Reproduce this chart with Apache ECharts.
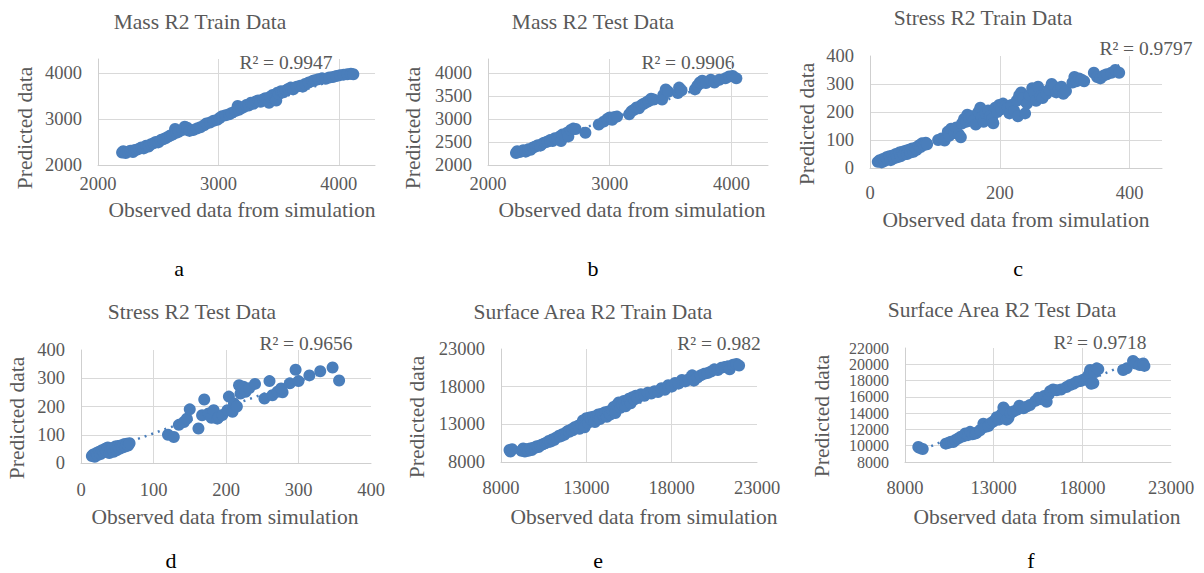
<!DOCTYPE html>
<html><head><meta charset="utf-8">
<script src="https://cdn.jsdelivr.net/npm/echarts@6/dist/echarts.min.js"></script>
<style>html,body{margin:0;padding:0;background:#fff}#c{width:1204px;height:573px}</style>
</head><body><div id="c"></div>
<script>
// ---------- data (observed, predicted) ----------
const massTrain = [[2200,2270],[2210,2300],[2230,2260],[2250,2290],[2270,2310],[2290,2280],[2300,2320],[2320,2330],[2340,2350],[2360,2380],[2380,2360],[2400,2420],[2420,2400],[2440,2450],[2460,2470],[2480,2500],[2500,2490],[2520,2540],[2540,2560],[2560,2580],[2580,2610],[2600,2640],[2620,2660],[2640,2780],[2650,2700],[2670,2720],[2700,2760],[2720,2830],[2740,2810],[2760,2740],[2790,2760],[2820,2790],[2850,2820],[2880,2860],[2900,2900],[2930,2920],[2960,2960],[2990,2980],[3010,3020],[3030,3060],[3060,3080],[3090,3100],[3110,3130],[3140,3170],[3160,3280],[3170,3200],[3190,3230],[3210,3260],[3230,3300],[3250,3290],[3270,3350],[3290,3330],[3310,3380],[3330,3400],[3350,3370],[3370,3420],[3390,3450],[3410,3400],[3420,3350],[3430,3480],[3450,3520],[3470,3460],[3480,3400],[3490,3570],[3500,3540],[3520,3600],[3540,3580],[3560,3620],[3580,3650],[3600,3680],[3620,3640],[3650,3700],[3680,3720],[3700,3700],[3720,3760],[3750,3790],[3780,3820],[3800,3840],[3830,3860],[3860,3880],[3890,3870],[3920,3900],[3950,3910],[3980,3930],[4010,3950],[4040,3960],[4070,3970],[4100,3980],[4120,3970]];
const massTest = [[2230,2260],[2240,2300],[2260,2280],[2290,2320],[2310,2290],[2330,2340],[2350,2330],[2370,2380],[2390,2400],[2410,2430],[2430,2420],[2450,2470],[2470,2490],[2490,2510],[2510,2540],[2530,2520],[2550,2580],[2570,2560],[2590,2620],[2600,2520],[2610,2660],[2630,2640],[2650,2700],[2660,2620],[2680,2760],[2700,2790],[2720,2780],[2800,2700],[2910,2880],[2950,2940],[2980,3000],[3000,3030],[3020,2980],[3040,3040],[3060,3050],[3160,3100],[3180,3170],[3200,3200],[3220,3250],[3240,3230],[3260,3300],[3280,3330],[3300,3360],[3320,3390],[3340,3440],[3360,3420],[3430,3420],[3440,3520],[3460,3640],[3480,3590],[3560,3560],[3570,3680],[3590,3620],[3700,3640],[3720,3720],[3740,3790],[3760,3830],[3790,3780],[3830,3850],[3860,3790],[3900,3850],[3950,3880],[3980,3920],[4010,3930],[4040,3880]];
const stressTrain = [[12,22],[15,28],[18,20],[20,32],[22,25],[25,38],[27,30],[30,42],[32,28],[35,45],[37,35],[40,50],[42,38],[45,55],[47,42],[50,58],[52,48],[55,62],[57,50],[60,65],[62,55],[65,70],[67,58],[70,72],[72,65],[75,80],[78,75],[80,88],[83,82],[86,90],[88,85],[105,100],[110,105],[115,98],[120,130],[122,115],[125,140],[130,125],[133,145],[137,120],[140,110],[142,160],[145,175],[148,165],[150,190],[153,180],[157,185],[160,170],[163,155],[167,200],[170,215],[172,180],[175,165],[178,195],[182,205],[185,185],[188,175],[190,160],[193,215],[196,200],[199,225],[202,210],[205,230],[208,220],[212,215],[215,195],[218,225],[222,205],[226,240],[228,185],[230,260],[233,270],[236,250],[239,195],[242,230],[246,260],[250,285],[253,270],[256,240],[259,290],[262,255],[266,250],[272,265],[276,280],[280,300],[284,290],[287,270],[291,280],[295,290],[298,265],[302,275],[312,305],[315,325],[318,310],[322,320],[326,315],[330,310],[345,340],[350,325],[355,320],[360,330],[365,335],[372,340],[378,350],[384,340]];
const stressTest = [[15,25],[17,30],[19,22],[21,35],[23,28],[25,40],[27,32],[29,45],[31,38],[33,50],[35,42],[37,55],[39,35],[41,48],[43,52],[45,40],[47,58],[49,45],[51,60],[53,50],[55,62],[57,55],[59,66],[61,58],[63,68],[65,62],[67,70],[120,100],[128,92],[135,135],[142,145],[146,157],[150,190],[162,122],[167,169],[170,225],[176,175],[180,160],[183,187],[188,157],[190,163],[195,170],[202,187],[204,235],[209,181],[211,211],[215,200],[218,275],[220,246],[224,270],[227,252],[232,265],[240,280],[253,228],[260,290],[264,240],[271,252],[278,250],[276,264],[288,282],[296,330],[300,290],[315,310],[330,325],[347,338],[356,292]];
const surfaceTrain = [[8500,9600],[8550,9400],[8650,9700],[9200,9500],[9300,9800],[9400,9400],[9500,9700],[9600,9500],[9700,9800],[9800,9600],[9900,9900],[10000,9900],[10100,10100],[10200,10000],[10300,10200],[10400,10300],[10500,10400],[10600,10500],[10700,10600],[10800,10800],[10900,10700],[11000,11000],[11100,10900],[11200,11200],[11300,11300],[11400,11500],[11500,11400],[11600,11700],[11700,11600],[11800,11900],[11900,12100],[12000,12000],[12100,12300],[12200,12200],[12300,12600],[12400,12500],[12500,12800],[12600,12400],[12700,13000],[12800,13500],[12900,12600],[13000,13800],[13100,13200],[13200,13900],[13300,13600],[13400,14000],[13500,13300],[13600,14100],[13700,14300],[13800,13700],[13900,14400],[14000,14200],[14100,14600],[14200,14000],[14300,14700],[14400,14300],[14500,14900],[14600,15300],[14700,14500],[14800,15600],[14900,15900],[15000,15200],[15100,15600],[15200,16100],[15300,15400],[15400,16000],[15500,16400],[15600,15800],[15700,16600],[15800,16300],[15900,16800],[16000,16500],[16200,17000],[16400,16800],[16600,17200],[16800,17100],[17000,17400],[17200,17300],[17400,17800],[17600,17600],[17800,18200],[18000,18000],[18200,18500],[18400,18400],[18600,18900],[18800,18700],[19000,19000],[19200,19500],[19300,18800],[19500,19200],[19700,19500],[19900,19700],[20100,19800],[20300,20000],[20500,20300],[20700,20200],[20900,20500],[21100,20600],[21300,20700],[21400,20300],[21600,20900],[21800,21000],[21950,20800]];
const surfaceTest = [[8750,9850],[8850,9700],[9000,9600],[10300,10250],[10450,10350],[10600,10500],[10720,10450],[10850,10700],[11000,10900],[11150,11100],[11290,11150],[11400,11500],[11550,11300],[11670,11700],[11800,11400],[11950,11500],[12040,11600],[12230,11900],[12420,12700],[12500,12300],[12700,12400],[12850,12800],[13000,13000],[13170,13500],[13300,13200],[13450,13900],[13550,14700],[13650,14400],[13730,13200],[13830,13400],[13950,14000],[14100,14200],[14300,14400],[14450,14900],[14680,14600],[14850,14800],[15050,15000],[15350,15500],[15520,15900],[15700,15700],[15850,16100],[15990,15400],[16100,16300],[16180,16700],[16350,16900],[16550,16800],[16800,16900],[17100,17200],[17310,17450],[17500,17600],[17690,17850],[17900,17950],[18050,18100],[18250,18100],[18300,18500],[18400,18900],[18440,19300],[18500,17600],[18620,17700],[18700,19000],[18810,19500],[18900,19400],[20300,19300],[20500,19500],[20860,20400],[21000,20100],[21240,19900],[21430,20100],[21500,19800]];

// trendline end points
const massTrainTrend = [[2200,2290],[4120,3990]];
const massTestTrend = [[2230,2300],[4040,3930]];
const stressTrainTrend = [[12,20],[384,367]];
const stressTestTrend = [[15,27],[356,340]];
const surfaceTrainTrend = [[8500,8900],[21950,21200]];
const surfaceTestTrend = [[8750,9280],[21500,20920]];

const titles = ['Mass R2 Train Data','Mass R2 Test Data','Stress R2 Train Data','Stress R2 Test Data','Surface Area R2 Train Data','Surface Area R2 Test Data'];
const r2Labels = ['R² = 0.9947','R² = 0.9906','R² = 0.9797','R² = 0.9656','R² = 0.982','R² = 0.9718'];
const letters = ['a','b','c','d','e','f'];
const xName = 'Observed data from simulation';
const yName = 'Predicted data';
// axis ranges: [min, max, interval]
const xRanges = [[2000,4300,1000],[2000,4300,1000],[0,450,200],[0,400,100],[8000,23000,5000],[8000,23000,5000]];
const yRanges = [[2000,4300,1000],[2000,4300,500],[0,400,100],[0,400,100],[8000,23000,5000],[8000,22000,2000]];
const seriesData = [massTrain,massTest,stressTrain,stressTest,surfaceTrain,surfaceTest];
const trendData = [massTrainTrend,massTestTrend,stressTrainTrend,stressTestTrend,surfaceTrainTrend,surfaceTestTrend];

// ---------- layout ----------
const layout = [
  {grid:[98,59,277,106], xm:9,  title:[200,22], r2:[286,62], xn:[242,210], yn:[25,128], let:[179,268]},
  {grid:[488,59,280,106], xm:9, title:[593,22], r2:[688,62], xn:[632,210], yn:[413,128], let:[593,268]},
  {grid:[870,56,292,112], xm:15, title:[983,18], r2:[1146,48], xn:[1016,220], yn:[807,124], let:[1018,268]},
  {grid:[81,350,290,113], xm:17, title:[192,312], r2:[306,343], xn:[225,517], yn:[17,418], let:[171,560]},
  {grid:[501,349,256,113], xm:16, title:[593,312], r2:[719,343], xn:[644,517], yn:[417,417], let:[598,560]},
  {grid:[905,348,266,114], xm:16, title:[1002,310], r2:[1100,342], xn:[1047,517], yn:[822,416], let:[1031,560], denseY:true}
];
const FONT = "Liberation Serif, Times New Roman, serif";
const TXT = '#595959';
const BLUE = '#4a7ebb';
const TICK_FS = 18.5, DENSE_FS = 16, Y_MARGIN = 16;

const grids=[], xAxes=[], yAxes=[], series=[], graphics=[];
function axis(range, idx, margin, showLabel){
  const [mn,mx,iv]=range;
  return {type:'value', gridIndex:idx, min:mn, max:mx, interval:iv,
    axisLine:{show:true, onZero:false, lineStyle:{color:'#cfcfcf', width:1}},
    axisTick:{show:false},
    splitLine:{show:true, showMinLine:false, showMaxLine:false, lineStyle:{color:'#d9d9d9', width:1}},
    axisLabel:{show:showLabel, margin:margin, color:TXT, fontFamily:FONT, fontSize:TICK_FS,
      hideOverlap:false, showMaxLabel:true, showMinLabel:true,
      formatter:v=>(Math.abs((v-mn)%iv)<1e-9 ? String(v) : '')}
  };
}
function txt(pos, text, size, color, rot, align){
  return {type:'text', x:pos[0], y:pos[1], rotation:rot||0, silent:true,
    style:{text:text, font:size+'px '+FONT, fill:color, textAlign:align||'center', textVerticalAlign:'middle'}};
}
layout.forEach((L,i)=>{
  grids.push({left:L.grid[0], top:L.grid[1], width:L.grid[2], height:L.grid[3], containLabel:false});
  xAxes.push(axis(xRanges[i], i, L.xm, true));
  yAxes.push(axis(yRanges[i], i, Y_MARGIN, !L.denseY));
  series.push({type:'line', xAxisIndex:i, yAxisIndex:i, data:trendData[i], symbol:'none', silent:true,
    lineStyle:{color:BLUE, width:2.5, type:[2,5]}, z:1});
  series.push({type:'scatter', xAxisIndex:i, yAxisIndex:i, data:seriesData[i], symbolSize:12,
    itemStyle:{color:BLUE, opacity:1}, silent:true, z:2});
  graphics.push(txt(L.title, titles[i], 21.5, TXT));
  graphics.push(txt(L.r2, r2Labels[i], 19.5, TXT));
  graphics.push(txt(L.xn, xName, 21.5, TXT));
  graphics.push(txt(L.yn, yName, 21.5, TXT, Math.PI/2));
  graphics.push(txt(L.let, letters[i], 22, '#000'));
});

const chart = echarts.init(document.getElementById('c'), null, {renderer:'svg'});
chart.setOption({animation:false, backgroundColor:'#fff', grid:grids, xAxis:xAxes, yAxis:yAxes, series:series, graphic:graphics});

// tightly stacked tick labels (the library would thin them out): placed through the axis scale
layout.forEach((L,i)=>{
  if(!L.denseY) return;
  const [mn,mx,iv]=yRanges[i];
  for(let v=mn; v<=mx+1e-9; v+=iv){
    const p = chart.convertToPixel({gridIndex:i}, [xRanges[i][0], v]);
    graphics.push(txt([p[0]-Y_MARGIN, p[1]], String(v), DENSE_FS, TXT, 0, 'right'));
  }
});
chart.setOption({graphic:graphics});
</script></body></html>
